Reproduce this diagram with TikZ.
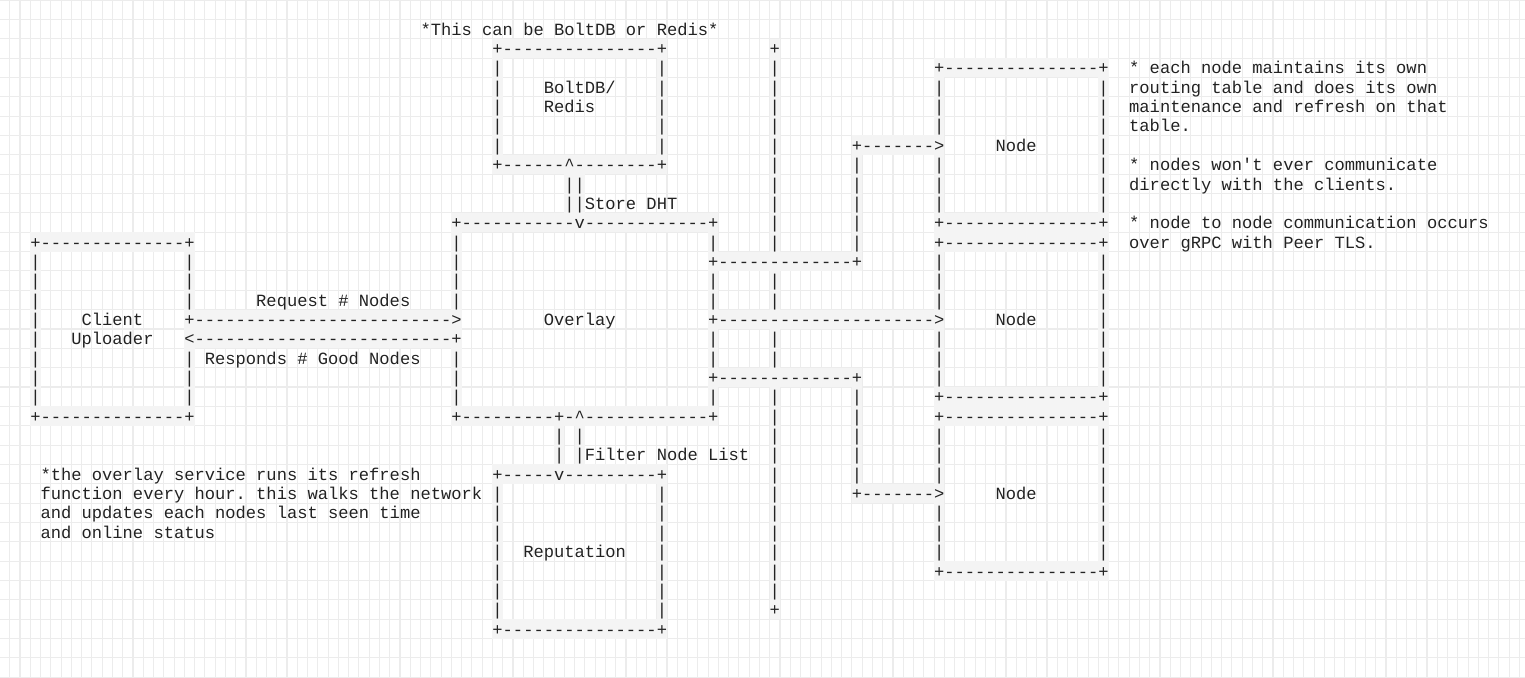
\documentclass[tikz,border=0pt]{standalone}
\usepackage{fontspec}
\setmonofont{Liberation Mono}
\pgfdeclarelayer{gridlayer}
\pgfdeclarelayer{hllayer}
\pgfsetlayers{gridlayer,hllayer,main}
\definecolor{gridc}{RGB}{236,236,236}
\definecolor{hlc}{RGB}{244,244,244}
\definecolor{inkc}{RGB}{34,34,34}
\newcounter{gl}
\tikzset{
  ascii/.style={anchor=base west, inner sep=0pt, outer sep=0pt, text=inkc,
    font=\ttfamily\fontsize{17.117pt}{20pt}\selectfont\frenchspacing},
  gline/.style={draw=gridc, line width=1.1pt}
}
\newcommand\dd[1]{\ifnum#1>0 -\dd{\numexpr#1-1\relax}\fi}
\newcommand\row[3]{\stepcounter{gl}\node[ascii] (g\arabic{gl}) at (#1-0.5,#2+0.32) {#3};}
\newcommand\lbl[4]{\node[ascii] (#1) at (#2-0.5,#3+0.32) {#4};}
\newcommand\vrun[3]{\foreach \yy in {#2,...,#3}{\row{#1}{\yy}{|}}}
\newcommand\hl[4]{\begin{pgfonlayer}{hllayer}\fill[hlc] (#1-0.5,#3-0.5) rectangle (#2+0.5,#4+0.5);\end{pgfonlayer}}
\begin{document}
\begin{tikzpicture}[x=10.27pt,y=-19.35pt]
\useasboundingbox (-0.448,-0.5) rectangle (148.04,34.487);
\begin{pgfonlayer}{gridlayer}
\fill[white] (-0.448,-0.5) rectangle (148.04,34.487);
\foreach \k in {0,...,148}{\draw[gline] (\k-0.5,-0.5) -- (\k-0.5,34.5);}
\foreach \k in {0,...,35}{\draw[gline] (-0.5,\k-0.5) -- (148.5,\k-0.5);}
\end{pgfonlayer}

% ---------- BoltDB / Redis ----------
\hl{48}{64}{2}{2}\hl{48}{64}{8}{8}\hl{48}{48}{2}{8}\hl{64}{64}{2}{8}
\row{48}{2}{+\dd{15}+}
\vrun{48}{3}{7}\vrun{64}{3}{7}
\row{48}{8}{+\dd{6}\textasciicircum\dd{8}+}
\lbl{boltdb}{53}{4}{BoltDB/}
\lbl{redis}{53}{5}{Redis}
\lbl{title}{41}{1}{*This can be BoltDB or Redis*}

% ---------- Store DHT ----------
\hl{55}{56}{9}{10}
\row{55}{9}{||}\row{55}{10}{||}
\lbl{store}{57}{10}{Store DHT}

% ---------- Overlay ----------
\hl{44}{69}{11}{11}\hl{44}{69}{21}{21}\hl{44}{44}{11}{21}\hl{69}{69}{11}{21}
\row{44}{11}{+\dd{11}v\dd{12}+}
\row{44}{21}{+\dd{9}+-\textasciicircum\dd{12}+}
\vrun{44}{12}{15}\vrun{44}{18}{20}
\row{69}{12}{|}\vrun{69}{14}{15}\vrun{69}{17}{18}\row{69}{20}{|}
\lbl{overlay}{53}{16}{Overlay}

% ---------- Client Uploader ----------
\hl{3}{18}{12}{12}\hl{3}{18}{21}{21}\hl{3}{3}{12}{21}\hl{18}{18}{12}{21}
\row{3}{12}{+\dd{14}+}\row{3}{21}{+\dd{14}+}
\vrun{3}{13}{20}\vrun{18}{13}{15}\vrun{18}{18}{20}
\lbl{client}{8}{16}{Client}
\lbl{uploader}{7}{17}{Uploader}

% ---------- Request / Responds ----------
\hl{18}{44}{16}{17}
\row{18}{16}{+\dd{25}>}
\row{18}{17}{<\dd{25}+}
\lbl{request}{25}{15}{Request \# Nodes}
\lbl{responds}{20}{18}{Responds \# Good Nodes}

% ---------- Filter Node List ----------
\hl{54}{54}{22}{23}\hl{56}{56}{22}{23}
\vrun{54}{22}{23}\vrun{56}{22}{23}
\lbl{filter}{57}{23}{Filter Node List}

% ---------- Reputation ----------
\hl{48}{64}{24}{24}\hl{48}{64}{32}{32}\hl{48}{48}{24}{32}\hl{64}{64}{24}{32}
\row{48}{24}{+\dd{5}v\dd{9}+}\row{48}{32}{+\dd{15}+}
\vrun{48}{25}{31}\vrun{64}{25}{31}
\lbl{reputation}{51}{28}{Reputation}

% ---------- separator ----------
\hl{75}{75}{2}{31}
\row{75}{2}{+}\vrun{75}{3}{12}\vrun{75}{14}{15}\vrun{75}{17}{18}\vrun{75}{20}{30}\row{75}{31}{+}

% ---------- Overlay to nodes ----------
\hl{69}{83}{13}{13}\hl{83}{83}{7}{13}\hl{83}{91}{7}{7}
\row{69}{13}{+\dd{13}+}\vrun{83}{8}{12}\row{83}{7}{+\dd{7}>}
\hl{69}{91}{16}{16}
\row{69}{16}{+\dd{21}>}
\hl{69}{83}{19}{19}\hl{83}{83}{19}{25}\hl{83}{91}{25}{25}
\row{69}{19}{+\dd{13}+}\vrun{83}{20}{24}\row{83}{25}{+\dd{7}>}

% ---------- Nodes ----------
\hl{91}{107}{3}{3}\hl{91}{107}{11}{11}\hl{91}{91}{3}{11}\hl{107}{107}{3}{11}
\row{91}{3}{+\dd{15}+}\row{91}{11}{+\dd{15}+}
\vrun{91}{4}{6}\vrun{91}{8}{10}\vrun{107}{4}{10}
\lbl{node1}{97}{7}{Node}

\hl{91}{107}{12}{12}\hl{91}{107}{20}{20}\hl{91}{91}{12}{20}\hl{107}{107}{12}{20}
\row{91}{12}{+\dd{15}+}\row{91}{20}{+\dd{15}+}
\vrun{91}{13}{15}\vrun{91}{17}{19}\vrun{107}{13}{19}
\lbl{node2}{97}{16}{Node}

\hl{91}{107}{21}{21}\hl{91}{107}{29}{29}\hl{91}{91}{21}{29}\hl{107}{107}{21}{29}
\row{91}{21}{+\dd{15}+}\row{91}{29}{+\dd{15}+}
\vrun{91}{22}{24}\vrun{91}{26}{28}\vrun{107}{22}{28}
\lbl{node3}{97}{25}{Node}

% ---------- notes ----------
\lbl{na1}{110}{3}{* each node maintains its own}
\lbl{na2}{110}{4}{routing table and does its own}
\lbl{na3}{110}{5}{maintenance and refresh on that}
\lbl{na4}{110}{6}{table.}
\lbl{nb1}{110}{8}{* nodes won't ever communicate}
\lbl{nb2}{110}{9}{directly with the clients.}
\lbl{nc1}{110}{11}{* node to node communication occurs}
\lbl{nc2}{110}{12}{over gRPC with Peer TLS.}

\lbl{ov1}{4}{24}{*the overlay service runs its refresh}
\lbl{ov2}{4}{25}{function every hour. this walks the network}
\lbl{ov3}{4}{26}{and updates each nodes last seen time}
\lbl{ov4}{4}{27}{and online status}
\end{tikzpicture}
\end{document}
